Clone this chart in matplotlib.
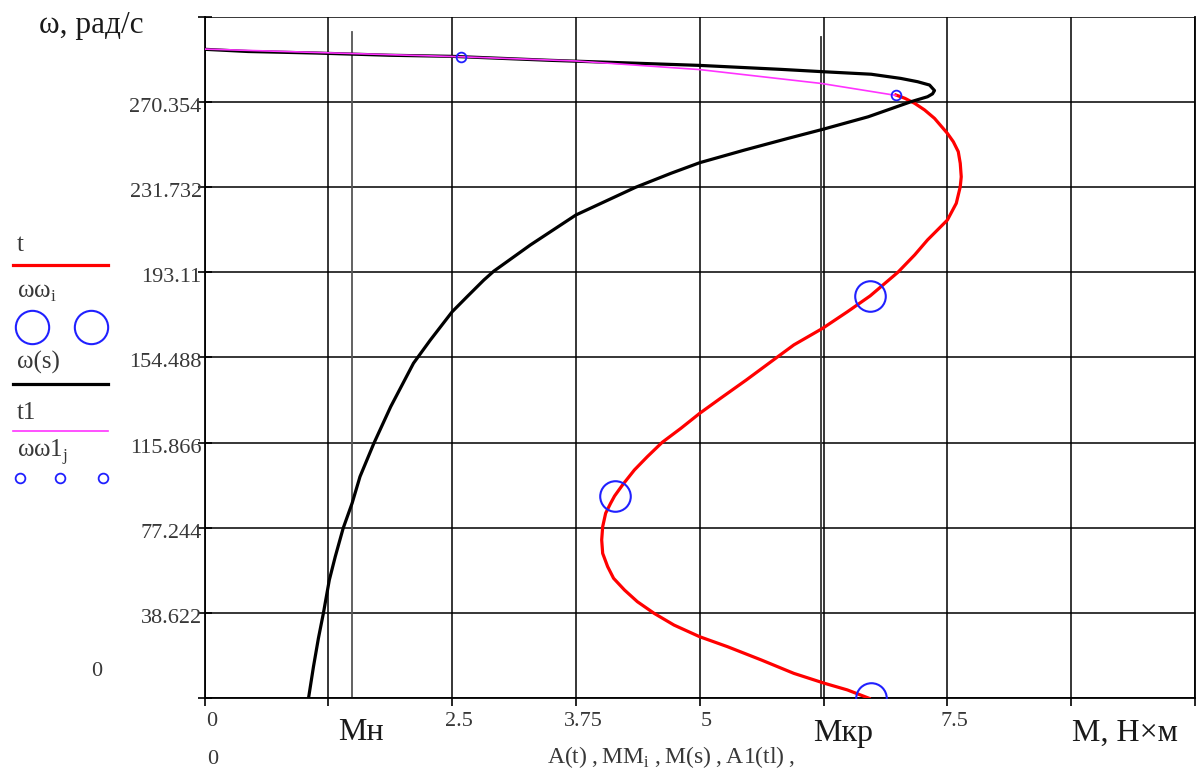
import numpy as np
import matplotlib.pyplot as plt
import matplotlib.transforms as mtransforms

plt.rcParams['font.family'] = ['Liberation Serif', 'DejaVu Serif']

# t : М = A(t), ω = t  (красная)
t_M = [6.71, 6.49, 6.26, 5.95, 5.62, 5.28, 5.00, 4.74, 4.54, 4.37, 4.24, 4.13, 4.07,
       4.02, 4.01, 4.02, 4.05, 4.10, 4.14, 4.22, 4.34, 4.47, 4.62, 4.81, 5.00, 5.21,
       5.47, 5.72, 5.95, 6.24, 6.49, 6.72, 7.00, 7.17, 7.30, 7.50, 7.59, 7.63, 7.64,
       7.63, 7.61, 7.56, 7.50, 7.37, 7.27, 7.17, 7.07, 6.98]
t_omega = [0, 3.8, 6.8, 11.3, 17.4, 23.4, 27.9, 33.2, 38.5, 43.8, 49.1, 54.4, 59.7,
           65.7, 71.8, 77.8, 83.9, 88.4, 91.7, 96.7, 103.5, 109.5, 116.0, 122.4, 129.2, 136.0,
           144.3, 152.6, 160.2, 167.7, 175.2, 182.4, 193.1, 201.0, 207.8, 216.8, 224.4, 231.9, 236.4,
           242.5, 247.8, 252.3, 256.1, 262.9, 266.7, 269.7, 272.0, 273.5]

# ωω_i, MM_i (большие кружки)
ww_M = [6.73, 4.14, 6.72]
ww_omega = [0, 91.7, 182.4]

# ω(s), M(s) (чёрная)
s_M = [1.05, 1.10, 1.15, 1.20, 1.26, 1.32, 1.40, 1.49, 1.57, 1.71, 1.88, 2.11, 2.28,
       2.50, 2.65, 2.82, 2.92, 3.29, 3.75, 4.35, 4.71, 5.00, 5.45, 5.89,
       6.24, 6.70, 7.13, 7.30, 7.35, 7.37, 7.32, 7.20, 7.03, 6.73, 6.26, 5.82, 5.00,
       4.22, 3.49, 2.50, 1.87, 1.13, 0.44, 0.00]
s_omega = [0, 14.3, 27.2, 38.5, 53.6, 64.2, 77.1, 88.4, 100.5, 115.6, 132.2, 151.9, 162.4,
           175.2, 182.0, 189.6, 193.6, 205.5, 219.1, 231.6, 238.0, 242.8, 248.5, 253.8,
           257.9, 263.6, 270.4, 272.7, 274.0, 275.5, 278.0, 279.5, 281.0, 282.9, 284.0, 285.1, 286.9,
           288.1, 289.2, 291.0, 291.5, 292.5, 293.2, 294.2]

# t1 (розовая)
t1_M = [0.0, 1.25, 2.59, 3.75, 5.00, 6.23, 6.98]
t1_omega = [294.3, 292.6, 290.8, 288.9, 285.0, 278.7, 273.3]

# ωω1_j (маленькие кружки)
ww1_M = [2.59, 6.98]
ww1_omega = [290.8, 273.3]

# маркеры
Mn = 1.49
Mkr = 6.22

x_ticks = np.arange(9) * 1.25
x_labels = ['0', '', '2.5', '3.75', '5', '', '7.5', '', '']
y_ticks = np.arange(9) * 38.622
y_labels = ['', '38.622', '77.244', '115.866', '154.488', '193.11', '231.732', '270.354', '']

fig = plt.figure(figsize=(12, 7.71), dpi=100)
ax = fig.add_axes([204.5 / 1200, 1 - 698.3 / 771, (1195 - 204.5) / 1200, (698.3 - 16.7) / 771])
ax.set_xlim(0, 10)
ax.set_ylim(0, 308.976)

ax.set_xticks(x_ticks)
ax.set_xticklabels(x_labels)
ax.set_yticks(y_ticks)
ax.set_yticklabels(y_labels)
ax.tick_params(axis='x', direction='out', length=6, width=1.2, pad=4,
               labelsize=16, labelcolor='#383838')
ax.tick_params(axis='y', direction='inout', length=10, width=1.2, pad=-3,
               labelsize=16, labelcolor='#383838')
ax.grid(True, color='black', lw=1.1)
ax.set_axisbelow(True)
ax.spines['top'].set_visible(False)
for side in ['left', 'bottom', 'right']:
    ax.spines[side].set_linewidth(1.3)
    ax.spines[side].set_color('black')

dx = mtransforms.ScaledTranslation(7 / 100, 0, fig.dpi_scale_trans)
for lab in ax.get_xticklabels():
    lab.set_transform(lab.get_transform() + dx)
dy = mtransforms.ScaledTranslation(0, -3 / 100, fig.dpi_scale_trans)
for lab in ax.get_yticklabels():
    lab.set_transform(lab.get_transform() + dy)

# маркеры Mн и Mкр
ax.axvline(Mn, ymin=0, ymax=0.977, color='#555555', lw=1.3, zorder=2)
ax.axvline(Mkr, ymin=0, ymax=0.97, color='#333333', lw=1.3, zorder=2)

ax.plot(t_M, t_omega, color='red', lw=2.3, zorder=3)
ax.plot(ww_M, ww_omega, 'o', ms=22, mfc='none', mec='#2020ff', mew=1.5, zorder=4)
ax.plot(s_M, s_omega, color='black', lw=2.3, zorder=5)
ax.plot(t1_M, t1_omega, color='#ff33ff', lw=1.2, zorder=6)
ax.plot(ww1_M, ww1_omega, 'o', ms=7, mfc='none', mec='#2020ff', mew=1.3, zorder=7)

# подписи и легенда в пикселях
lax = fig.add_axes([0, 0, 1, 1], facecolor='none')
lax.set_xlim(0, 1200)
lax.set_ylim(771, 0)
lax.axis('off')

txt = '#1a1a1a'
gray = '#383838'
lax.text(91, 25, 'ω, рад/с', fontsize=22.5, color=txt, ha='center', va='center')
lax.text(97, 672, '0', fontsize=16, color=gray, ha='center', va='center')
lax.text(213, 760, '0', fontsize=16, color=gray, ha='center', va='center')
lax.text(547, 757, 'A(t)\u2009,\u2009MM$_\\mathregular{i}$\u2009,\u2009M(s)\u2009,\u2009A1(tl)\u2009,',
         fontsize=17, color=gray, ha='left', va='center')
lax.text(361, 733, 'Mн', fontsize=23, color=txt, ha='center', va='center')
lax.text(843, 733, 'Mкр', fontsize=23, color=txt, ha='center', va='center')
lax.text(1125, 733, 'M, Н×м', fontsize=23, color=txt, ha='center', va='center')

lax.text(17, 245, 't', fontsize=18, color=gray, ha='left', va='center')
lax.plot([13, 108], [265, 265], color='red', lw=2.3)
lax.text(17, 293, 'ωω$_\\mathregular{i}$', fontsize=18, color=gray, ha='left', va='center')
lax.plot([32, 91], [327, 327], 'o', ms=24, mfc='none', mec='#2020ff', mew=1.5)
lax.text(17, 362, 'ω(s)', fontsize=18, color=gray, ha='left', va='center')
lax.plot([13, 108], [384, 384], color='black', lw=2.3)
lax.text(17, 413, 't1', fontsize=18, color=gray, ha='left', va='center')
lax.plot([13, 108], [431, 431], color='#ff33ff', lw=1.2)
lax.text(17, 452, 'ωω1$_\\mathregular{j}$', fontsize=18, color=gray, ha='left', va='center')
lax.plot([20, 60, 103], [478, 478, 478], 'o', ms=7, mfc='none', mec='#2020ff', mew=1.3)

fig.savefig('out.png', dpi=100)
